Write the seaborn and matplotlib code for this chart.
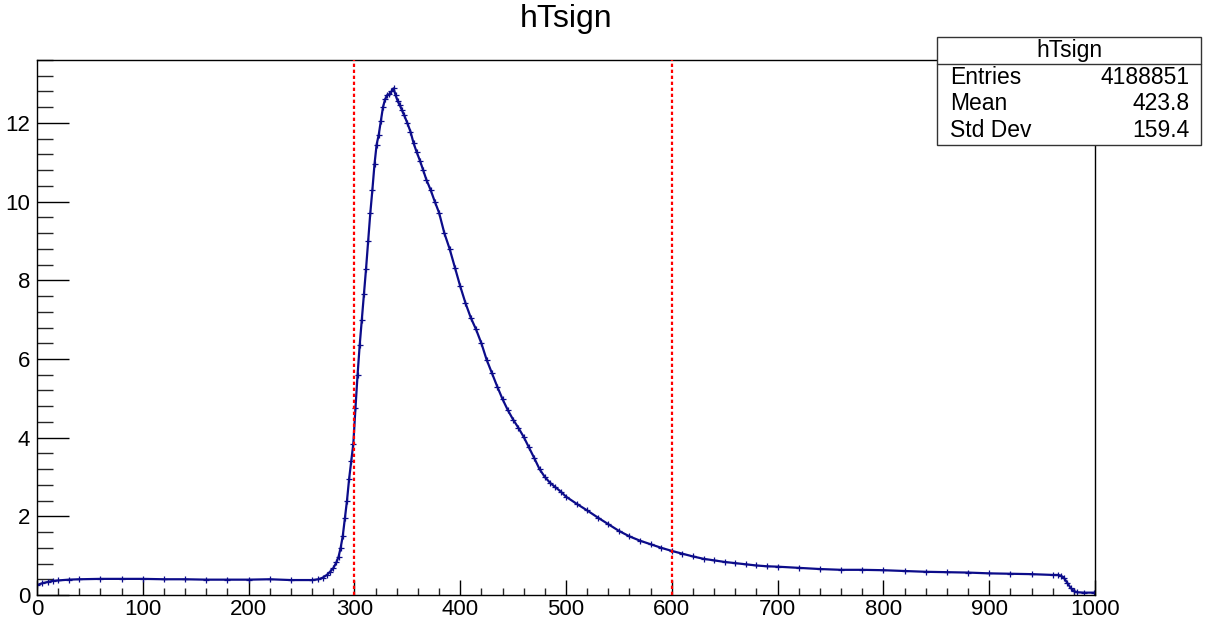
import matplotlib
matplotlib.use("Agg")
import numpy as np
import pandas as pd
import matplotlib.pyplot as plt
import seaborn as sns
from matplotlib.patches import Rectangle
from matplotlib.lines import Line2D
from matplotlib.ticker import MultipleLocator

# bin centres and bin contents
bin_x = [0, 5, 10, 15, 20, 30, 40, 60, 80, 100, 120, 140, 160, 180, 200, 220, 240, 260,
         266, 270, 274, 277, 280, 283, 285, 287, 289, 291, 293, 295, 297, 299, 301, 303,
         305, 307, 309, 311, 313, 315, 317, 319, 321, 323, 325, 327, 329, 331, 333, 335,
         337, 339, 341, 343, 345, 347, 350, 353, 356, 359, 362, 365, 368, 372, 376, 380,
         385, 390, 395, 400, 405, 410, 415, 420, 425, 430, 435, 440, 445, 450, 455, 460,
         465, 470, 475, 480, 485, 490, 495, 500, 510, 520, 530, 540, 550, 560, 570, 580,
         590, 600, 610, 620, 630, 640, 650, 660, 670, 680, 690, 700, 720, 740, 760, 780,
         800, 820, 840, 860, 880, 900, 920, 940, 960, 965, 968, 971, 974, 977, 980, 983,
         990, 999]
counts = [0.25, 0.30, 0.33, 0.36, 0.37, 0.39, 0.40, 0.41, 0.41, 0.41, 0.40, 0.40, 0.39, 0.39,
          0.39, 0.40, 0.38, 0.38, 0.40, 0.44, 0.51, 0.59, 0.68, 0.83, 0.97, 1.20, 1.50, 1.95,
          2.40, 2.95, 3.40, 3.85, 4.75, 5.60, 6.35, 7.00, 7.65, 8.29, 9.00, 9.70, 10.30, 10.95,
          11.45, 11.70, 12.05, 12.40, 12.60, 12.70, 12.73, 12.80, 12.88, 12.70, 12.55, 12.45,
          12.32, 12.20, 12.00, 11.78, 11.48, 11.25, 11.04, 10.80, 10.56, 10.30, 10.00, 9.72,
          9.20, 8.80, 8.32, 7.85, 7.42, 7.05, 6.75, 6.40, 5.98, 5.64, 5.30, 4.98, 4.70, 4.46,
          4.25, 4.02, 3.75, 3.48, 3.20, 3.00, 2.85, 2.74, 2.63, 2.50, 2.32, 2.15, 1.97, 1.80,
          1.63, 1.49, 1.38, 1.29, 1.20, 1.12, 1.05, 0.98, 0.92, 0.88, 0.84, 0.81, 0.78, 0.75,
          0.73, 0.72, 0.69, 0.66, 0.64, 0.64, 0.63, 0.61, 0.59, 0.58, 0.57, 0.55, 0.54, 0.53,
          0.51, 0.51, 0.49, 0.42, 0.30, 0.18, 0.10, 0.07, 0.06, 0.06]

cut_lines = [300, 600]
hist_name = "hTsign"
stats_labels = ["Entries", "Mean", "Std Dev"]
stats_values = ["4188851", "423.8", "159.4"]

sns.set_style("white")
plt.rcParams["font.family"] = ["Liberation Sans", "DejaVu Sans"]
plt.rcParams["text.color"] = "black"

W, H = 1219, 627
fig = plt.figure(figsize=(W / 100, H / 100), dpi=100)
fig.patch.set_facecolor("white")
ax = fig.add_axes([37 / W, 1 - 595 / H, (1095 - 37) / W, (595 - 60) / H])

navy = "#0c0c8a"
df = pd.DataFrame({"x": bin_x, "y": counts})
sns.lineplot(data=df, x="x", y="y", ax=ax, color=navy, lw=1.6,
             marker="+", markersize=4, markeredgewidth=0.9, markeredgecolor=navy)

for xc in cut_lines:
    ax.axvline(xc, color="red", lw=1.6, linestyle=(0, (1.5, 1.2)), zorder=3)

ax.set_xlim(0, 1000)
ax.set_ylim(0, 13.6)
ax.set_xlabel("")
ax.set_ylabel("")

ax.xaxis.set_major_locator(MultipleLocator(100))
ax.xaxis.set_minor_locator(MultipleLocator(20))
ax.yaxis.set_major_locator(MultipleLocator(2))
ax.yaxis.set_minor_locator(MultipleLocator(0.4))
ax.tick_params(axis="x", which="major", direction="in", length=10.8, width=1,
               labelsize=16, pad=3, colors="black", bottom=True, top=False)
ax.tick_params(axis="x", which="minor", direction="in", length=5.4, width=1,
               bottom=True, top=False)
ax.tick_params(axis="y", which="major", direction="in", length=23, width=1,
               labelsize=16, pad=5, colors="black", left=True, right=False)
ax.tick_params(axis="y", which="minor", direction="in", length=11.5, width=1,
               left=True, right=False)
for sp in ax.spines.values():
    sp.set_color("black")
    sp.set_linewidth(1)

# title
fig.text(566 / W, 1 - 27 / H, hist_name, ha="center", va="baseline", fontsize=23)

# stats box
bx0, by0, bx1, by1 = 937, 37, 1201, 145
fig.add_artist(Rectangle((bx0 / W, 1 - by1 / H), (bx1 - bx0) / W, (by1 - by0) / H,
                         transform=fig.transFigure, facecolor="white",
                         edgecolor="#333333", lw=1, zorder=10))
fig.add_artist(Line2D([bx0 / W, bx1 / W], [1 - 64 / H, 1 - 64 / H],
                      transform=fig.transFigure, color="#333333", lw=1, zorder=11))
fig.text((bx0 + bx1) / 2 / W, 1 - 51 / H, hist_name, ha="center", va="center",
         fontsize=16.5, zorder=12)
for i, (lab, val) in enumerate(zip(stats_labels, stats_values)):
    yy = 1 - (77 + 27 * i) / H
    fig.text(950 / W, yy, lab, ha="left", va="center", fontsize=16.5, zorder=12)
    fig.text(1190 / W, yy, val, ha="right", va="center", fontsize=16.5, zorder=12)

fig.savefig("out.png", dpi=100, facecolor="white")
